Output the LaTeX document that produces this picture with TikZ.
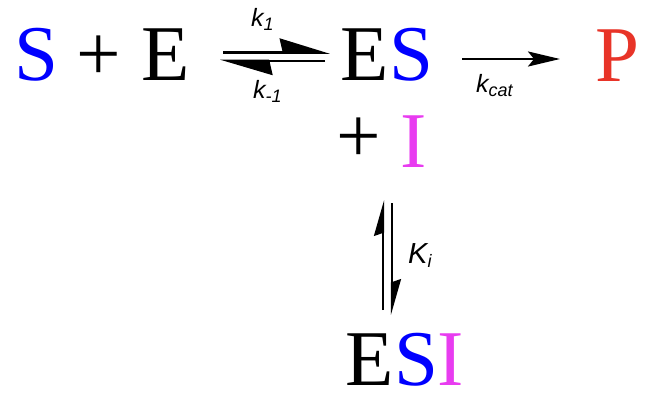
\documentclass[tikz,border=0pt]{standalone}
\usepackage{fontspec}
\setmainfont{Liberation Serif}
\newfontfamily\labfont{Liberation Sans}
\usetikzlibrary{arrows.meta}
\definecolor{sblue}{RGB}{0,0,255}
\definecolor{pred}{RGB}{232,52,40}
\definecolor{imag}{RGB}{232,60,240}
\tikzset{
  big/.style={inner sep=0pt, anchor=base, font=\fontsize{79}{90}\selectfont},
  lab/.style={inner sep=0pt, anchor=base west, font=\labfont\itshape\fontsize{25}{30}\selectfont},
  harp/.style={line width=2.6pt, -{Stealth[harpoon, length=#1, width=28pt, inset=3pt]}},
  vharp/.style={line width=2.2pt, -{Stealth[harpoon, length=32pt, width=18pt, inset=3pt]}},
  fwd/.style={line width=2.6pt, -{Stealth[length=32pt, width=15pt, inset=6pt]}}
}
\newcommand{\lsub}[1]{\raisebox{-4pt}{\fontsize{18}{20}\selectfont #1}}
\begin{document}
\begin{tikzpicture}[x=1pt,y=-1pt]
\useasboundingbox (0,0) rectangle (671,401);
% species
\node[big, text=sblue] (S) at (36,81) {S};
\node[big] (plus1) at (99,81) {+};
\node[big] (E) at (165.5,81) {E};
\node[big] (ES) at (387,81) {E\textcolor{sblue}{S}};
\node[big, text=pred] (P) at (617.5,82) {P};
\node[big] (plus2) at (359,162) {+};
\node[big, text=imag] (I) at (414,167) {I};
\node[big] (ESI) at (405,385) {E\textcolor{sblue}{S}\textcolor{imag}{I}};
% arrow end points
\coordinate (f1a) at (223,52.5);
\coordinate (f1b) at (330,52.5);
\coordinate (b1a) at (325,61);
\coordinate (b1b) at (220,61);
\coordinate (c1a) at (462,59);
\coordinate (c1b) at (560,59);
\coordinate (u1a) at (383,310);
\coordinate (u1b) at (383,200);
\coordinate (d1a) at (392,203);
\coordinate (d1b) at (392,315);
% arrows
\draw[harp=46pt] (f1a) -- (f1b);
\draw[harp=48pt] (b1a) -- (b1b);
\draw[fwd] (c1a) -- (c1b);
\draw[vharp] (u1a) -- (u1b);
\draw[vharp] (d1a) -- (d1b);
% labels
\node[lab] (k1) at (251,26.5) {k\lsub{1}};
\node[lab] (km1) at (253,99) {k\lsub{-1}};
\node[lab] (kcat) at (476,93) {k\lsub{cat}};
\node[lab, font=\labfont\itshape\fontsize{29}{34}\selectfont] (Ki) at (408,263) {K\lsub{i}};
\end{tikzpicture}
\end{document}
